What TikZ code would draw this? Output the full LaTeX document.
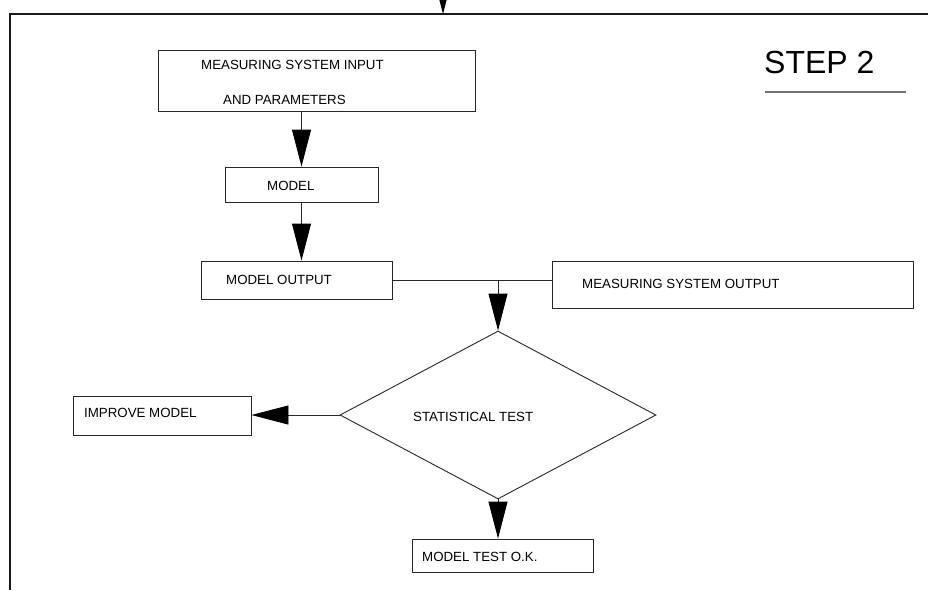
\documentclass[tikz,border=0pt]{standalone}
\usepackage{fontspec}
\setmainfont{Liberation Sans}
\usetikzlibrary{arrows.meta,shapes.geometric}
\begin{document}
\begin{tikzpicture}[x=1pt,y=-1pt,
  line/.style={draw=black!85,line width=0.9pt},
  box/.style={draw=black!85,line width=0.9pt,rectangle,inner sep=0pt},
  lbl/.style={anchor=west,inner sep=0pt,font=\fontsize{13.3}{15}\selectfont},
  bigarrow/.style={line,-{Triangle[length=37pt,width=19pt,color=black]}},
  smallarrow/.style={line,-{Triangle[length=14pt,width=7pt,color=black]}}]
\useasboundingbox (0,0) rectangle (928,590);
% frame
\coordinate (frTR) at (928,14);
\coordinate (frTL) at (10,14);
\coordinate (frBL) at (10,590);
\draw[draw=black!90,line width=1.3pt] (frTR) -- (frTL) -- (frBL);
\coordinate (inTop) at (443,0);
\coordinate (inTip) at (443,14);
\draw[smallarrow] (inTop) -- (inTip);
% step label
\node[anchor=west,inner sep=0pt,font=\fontsize{32}{36}\selectfont] (step2) at (764,62) {STEP 2};
\coordinate (ulA) at (765,92);
\coordinate (ulB) at (906,92);
\draw[draw=black!55,line width=1.6pt] (ulA) -- (ulB);
% boxes
\node[box,minimum width=317pt,minimum height=61pt] (inp) at (317,80.5) {};
\node[lbl] (inpA) at (201,65) {MEASURING SYSTEM INPUT};
\node[lbl] (inpB) at (223,100) {AND PARAMETERS};
\node[box,minimum width=153pt,minimum height=35pt] (model) at (301.5,184.5) {};
\node[lbl] (modelT) at (267,186) {MODEL};
\node[box,minimum width=191pt,minimum height=38pt] (mout) at (296.5,280) {};
\node[lbl] (moutT) at (226,280) {MODEL OUTPUT};
\node[box,minimum width=361pt,minimum height=47pt] (mso) at (732.5,284.5) {};
\node[lbl] (msoT) at (582,284) {MEASURING SYSTEM OUTPUT};
\node[draw=black!85,line width=0.9pt,diamond,inner sep=0pt,minimum width=316pt,minimum height=168pt] (test) at (498,415) {};
\node[lbl] (testT) at (413,417) {STATISTICAL TEST};
\node[box,minimum width=178pt,minimum height=39pt] (impr) at (162,415.5) {};
\node[lbl] (imprT) at (84,413) {IMPROVE MODEL};
\node[box,minimum width=181pt,minimum height=33pt] (ok) at (502.5,555.5) {};
\node[lbl] (okT) at (422,557) {MODEL TEST O.K.};
% connectors
\draw[bigarrow] (model.north |- inp.south) -- (model.north);
\draw[bigarrow] (model.south) -- (model.south |- mout.north);
\draw[line] (mout.east) -- (mso.west |- mout.east);
\draw[bigarrow] (test.north |- mout.east) -- (test.north);
\draw[bigarrow] (test.west) -- (impr.east |- test.west);
\draw[bigarrow] (test.south) -- (test.south |- ok.north);
\end{tikzpicture}
\end{document}
